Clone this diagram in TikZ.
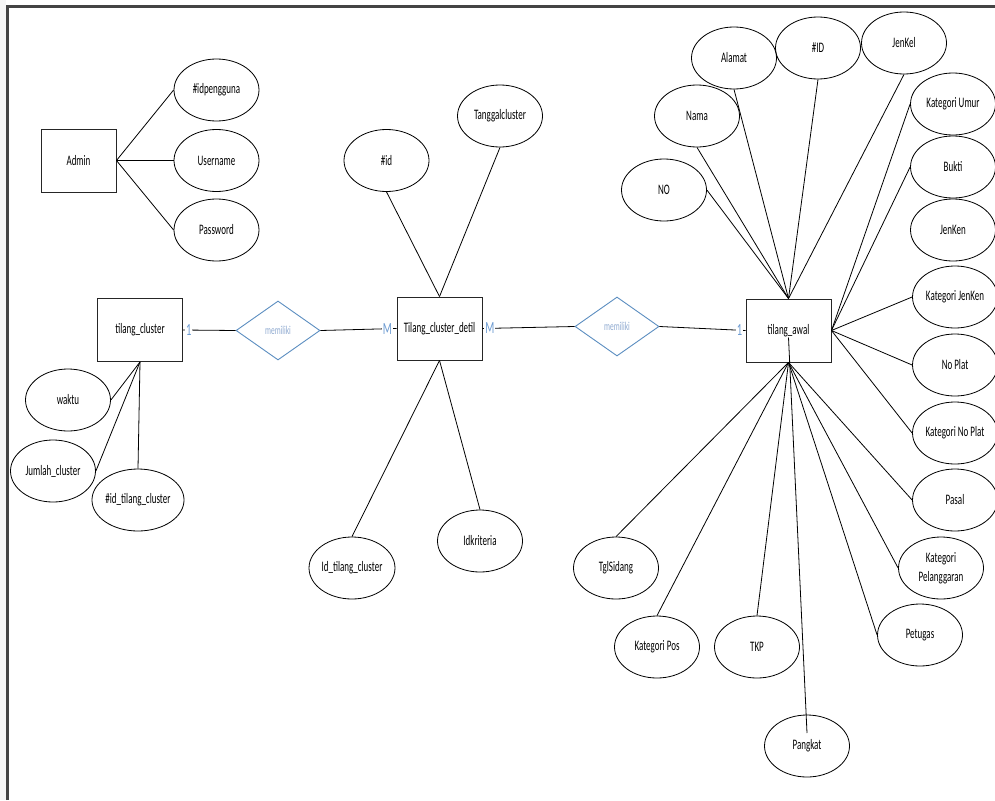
\documentclass[tikz,border=0pt]{standalone}
\usepackage{fontspec}
\setmainfont{Carlito}[FakeStretch=0.62]
\usetikzlibrary{shapes.geometric}

\definecolor{relBlue}{HTML}{5B8DC0}
\definecolor{relText}{HTML}{8FAAD0}
\definecolor{cardBlue}{HTML}{6C9BD2}
\definecolor{frameGray}{HTML}{444444}

\begin{document}
\begin{tikzpicture}[
    x=1pt, y=-1pt,
    % Entity style: plain rectangles
    entityStyle/.style={
        draw=black!85,
        rectangle,
        minimum width=85pt,
        minimum height=63pt,
        inner sep=0pt,
        line width=0.9pt,
        font=\fontsize{14.5}{19}\selectfont
    },
    % Attribute style: ellipses, same size
    attrStyle/.style={
        draw,
        ellipse,
        minimum width=85pt,
        minimum height=62pt,
        inner sep=0pt,
        align=center,
        line width=0.8pt,
        font=\fontsize{14.5}{19}\selectfont
    },
    % Relationship style: blue diamonds
    relStyle/.style={
        draw=relBlue,
        diamond,
        minimum width=84pt,
        minimum height=59pt,
        inner sep=0pt,
        line width=0.9pt,
        text=relText,
        font=\fontsize{12}{14}\selectfont
    },
    % Cardinality labels sitting on the line
    cardStyle/.style={
        text=cardBlue,
        fill=white,
        inner sep=1pt,
        font=\fontsize{17}{19}\selectfont
    },
    lineStyle/.style={line width=0.8pt}
]
\useasboundingbox (0,0) rectangle (995,800);

%--- Page frame ---
\fill[gray!7] (0,0) rectangle (5.5,800);
\draw[frameGray, line width=3pt] (7,800) -- (7,6.5) -- (995,6.5);

%--- Admin ---
\node[entityStyle, minimum width=75pt] (admin) at (78.5,160.5) {Admin};
\node[attrStyle] (idpengguna) at (216.5,90)  {\#idpengguna};
\node[attrStyle] (username)   at (216.5,160.5) {Username};
\node[attrStyle] (password)   at (216.5,230) {Password};

%--- tilang_cluster ---
\node[entityStyle] (tcluster) at (140,330) {tilang\_cluster};
\node[attrStyle] (waktu)  at (68,400)  {waktu};
\node[attrStyle] (jumlah) at (53,471)  {Jumlah\_cluster};
\node[attrStyle] (idtc)   at (138,500) {\#id\_tilang\_cluster};

%--- Relationships ---
\node[relStyle] (rel1) at (278,330.5) {memiliki};
\node[relStyle] (rel2) at (617,326.5) {memiliki};

%--- Tilang_cluster_detil ---
\node[entityStyle] (tcdetil) at (439.5,328.5) {Tilang\_cluster\_detil};
\node[attrStyle] (idd)       at (386.5,160.5) {\#id};
\node[attrStyle] (tglcl)     at (500,116)     {Tanggalcluster};
\node[attrStyle] (idtcl)     at (352,568)     {Id\_tilang\_cluster};
\node[attrStyle] (idkrit)    at (480,541)     {Idkriteria};

%--- tilang_awal ---
\node[entityStyle] (tawal) at (788.5,330.5) {tilang\_awal};

%--- Top fan of attributes ---
\node[attrStyle] (no)      at (664,190) {NO};
\node[attrStyle] (nama)    at (697,116) {Nama};
\node[attrStyle] (alamat)  at (734,58)  {Alamat};
\node[attrStyle] (idta)    at (818,48)  {\#ID};
\node[attrStyle] (jenkel)  at (904,43)  {JenKel};

%--- Right column of attributes ---
\node[attrStyle] (katumur)   at (953,104) {Kategori Umur};
\node[attrStyle] (bukti)     at (953,167) {Bukti};
\node[attrStyle] (jenken)    at (953,230) {JenKen};
\node[attrStyle] (katjenken) at (955,297) {Kategori JenKen};
\node[attrStyle] (noplat)    at (955,365) {No Plat};
\node[attrStyle] (katnoplat) at (955,433) {Kategori No Plat};
\node[attrStyle] (pasal)     at (955,500) {Pasal};

%--- Bottom fan of attributes ---
\node[attrStyle] (katpel)    at (941,568) {Kategori\\Pelanggaran};
\node[attrStyle] (petugas)   at (920,635) {Petugas};
\node[attrStyle] (tglsidang) at (616,568) {TglSidang};
\node[attrStyle] (katpos)    at (657,647) {Kategori Pos};
\node[attrStyle] (tkp)       at (757,647) {TKP};
\node[attrStyle] (pangkat)   at (807,746) {Pangkat};

%-----------------------
%        Edges
%-----------------------
% (1) Admin attributes
\draw[lineStyle] (admin.east) -- (idpengguna.west);
\draw[lineStyle] (admin.east) -- (username.west);
\draw[lineStyle] (admin.east) -- (password.west);

% (2) tilang_cluster attributes
\draw[lineStyle] (tcluster.south) -- (waktu.east);
\draw[lineStyle] (tcluster.south) -- (jumlah.east);
\draw[lineStyle] (tcluster.south) -- (idtc.north);

% (3) tilang_cluster -> memiliki -> Tilang_cluster_detil: "1" / "M"
\draw[lineStyle]
  (tcluster.east) -- node[cardStyle, pos=0.11] {1} (rel1.west);
\draw[lineStyle]
  (rel1.east) -- node[cardStyle, pos=0.88] {M} (tcdetil.west);

% (4) Tilang_cluster_detil attributes
\draw[lineStyle] (tcdetil.north) -- (idd.south);
\draw[lineStyle] (tcdetil.north) -- (tglcl.south);
\draw[lineStyle] (tcdetil.south) -- (idtcl.north);
\draw[lineStyle] (tcdetil.south) -- (idkrit.north);

% (5) Tilang_cluster_detil -> memiliki -> tilang_awal: "M" / "1"
\draw[lineStyle]
  (tcdetil.east) -- node[cardStyle, pos=0.08] {M} (rel2.west);
\draw[lineStyle]
  (rel2.east) -- node[cardStyle, pos=0.93] {1} (tawal.west);

% (6) tilang_awal, top fan
\draw[lineStyle] (tawal.north) -- (no.east);
\draw[lineStyle] (tawal.north) -- (nama.south);
\draw[lineStyle] (tawal.north) -- (alamat.south);
\draw[lineStyle] (tawal.north) -- (idta.south);
\draw[lineStyle] (tawal.north) -- (jenkel.south);

% (7) tilang_awal, right side
\draw[lineStyle] (tawal.east) -- (katumur.west);
\draw[lineStyle] (tawal.east) -- (bukti.west);
\draw[lineStyle] (tawal.east) -- (katjenken.west);
\draw[lineStyle] (tawal.east) -- (noplat.west);
\draw[lineStyle] (tawal.east) -- (katnoplat.west);

% (8) tilang_awal, bottom fan
\draw[lineStyle] (tawal.south) -- (pasal.west);
\draw[lineStyle] (tawal.south) -- (katpel.west);
\draw[lineStyle] (tawal.south) -- (petugas.west);
\draw[lineStyle] (tawal.south) -- (tglsidang.north);
\draw[lineStyle] (tawal.south) -- (katpos.north);
\draw[lineStyle] (tawal.south) -- (tkp.north);
\draw[lineStyle] ([yshift=-7pt]tawal.center) -- ([yshift=13pt]pangkat.center);
\end{tikzpicture}
\end{document}
